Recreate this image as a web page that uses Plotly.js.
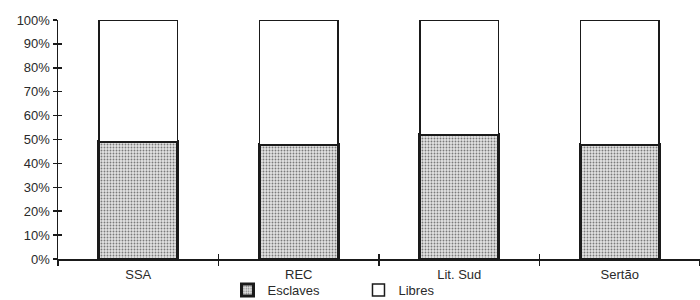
<!DOCTYPE html>
<html>
<head>
<meta charset="utf-8">
<script src="https://cdn.plot.ly/plotly-3.0.1.min.js"></script>
<style>html,body{margin:0;padding:0;background:#fff;}#chart{width:700px;height:300px;}</style>
</head>
<body>
<div id="chart"></div>
<script>
const categories = ["SSA", "REC", "Lit. Sud", "Sertão"];
const esclaves = [49, 48, 52, 48];
const libres = [51, 52, 48, 52];
const yTickValues = [0, 10, 20, 30, 40, 50, 60, 70, 80, 90, 100];
const yTickLabels = ["0%", "10%", "20%", "30%", "40%", "50%", "60%", "70%", "80%", "90%", "100%"];

const fontFam = "Liberation Sans, Arial, sans-serif";

const traces = [
  {
    type: "bar", name: "Esclaves", x: categories, y: esclaves, width: 0.49,
    marker: {
      color: "#d8d8d8",
      line: {color: "#1a1a1a", width: 3},
      pattern: {shape: ".", fgcolor: "#7a7a7a", bgcolor: "#e2e2e2", size: 3, solidity: 0.3}
    },
    hoverinfo: "skip"
  },
  {
    type: "bar", name: "Libres", x: categories, y: libres, width: 0.49,
    marker: {color: "#ffffff", line: {color: "#1a1a1a", width: 1.5}},
    hoverinfo: "skip"
  },
  {
    type: "scatter", x: categories, y: esclaves, xaxis: "x2", yaxis: "y2",
    mode: "markers", marker: {opacity: 0, size: 1}, showlegend: false, hoverinfo: "skip"
  }
];

const layout = {
  width: 700, height: 300,
  barmode: "stack",
  paper_bgcolor: "#ffffff", plot_bgcolor: "#ffffff",
  margin: {l: 58, r: 0, t: 20, b: 41, autoexpand: false},
  font: {family: fontFam, size: 13, color: "#2a2a2a"},
  showlegend: true,
  legend: {
    orientation: "h", traceorder: "normal",
    x: 0.264, xanchor: "left", y: -0.13, yanchor: "middle",
    font: {family: fontFam, size: 13, color: "#2a2a2a"},
    entrywidth: 86, entrywidthmode: "pixels", bgcolor: "rgba(0,0,0,0)"
  },
  xaxis: {
    type: "category", categoryorder: "array", categoryarray: categories,
    range: [-0.5, 3.5], showgrid: false, zeroline: false,
    showline: true, linecolor: "#1a1a1a", linewidth: 1.5,
    ticks: "outside", ticklen: 5, tickwidth: 1.5, tickcolor: "#1a1a1a",
    tickson: "boundaries", tickfont: {size: 13}, ticklabelstandoff: 3
  },
  xaxis2: {
    type: "category", categoryorder: "array", categoryarray: categories,
    overlaying: "x", anchor: "y2", side: "bottom", range: [-0.5, 3.5], showgrid: false, zeroline: false,
    showline: false, ticks: "inside", ticklen: 5, tickwidth: 1.5, tickcolor: "#1a1a1a",
    tickson: "boundaries", showticklabels: false
  },
  yaxis: {
    range: [0, 100], tickmode: "array", tickvals: yTickValues, ticktext: yTickLabels,
    showgrid: false, zeroline: false, showline: true, linecolor: "#1a1a1a", linewidth: 1.5,
    ticks: "outside", ticklen: 4, tickwidth: 1.5, tickcolor: "#1a1a1a",
    tickfont: {size: 13}
  },
  yaxis2: {
    overlaying: "y", anchor: "x2", side: "left", range: [0, 100], tickmode: "array", tickvals: yTickValues,
    showgrid: false, zeroline: false, showline: false,
    ticks: "inside", ticklen: 4, tickwidth: 1.5, tickcolor: "#1a1a1a",
    showticklabels: false
  }
};

Plotly.newPlot("chart", traces, layout, {staticPlot: true, displayModeBar: false});
</script>
</body>
</html>
